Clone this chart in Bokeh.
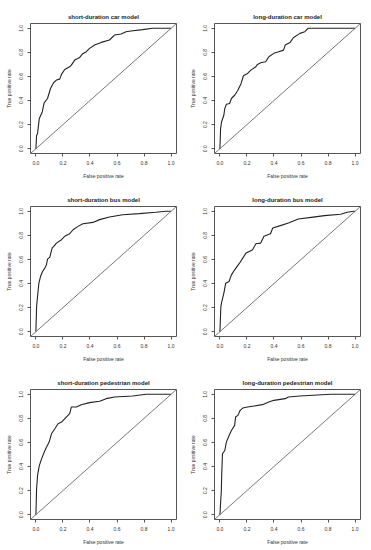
from bokeh.plotting import figure
from bokeh.layouts import column, row
from bokeh.models import Range1d, FixedTicker, Slope
from bokeh.embed import file_html
from bokeh.resources import INLINE

titles = ["short-duration car model", "long-duration car model",
          "short-duration bus model", "long-duration bus model",
          "short-duration pedestrian model", "long-duration pedestrian model"]
x_label = "False positive rate"
y_label = "True positive rate"
ticks = [0.0, 0.2, 0.4, 0.6, 0.8, 1.0]
tick_labels = ["0.0", "0.2", "0.4", "0.6", "0.8", "1.0"]

fpr_car_short = [0, 0.005, 0.012, 0.025, 0.047, 0.061, 0.086, 0.108, 0.132, 0.152, 0.176, 0.189, 0.213, 0.25, 0.262, 0.287, 0.324, 0.343, 0.373, 0.397, 0.434, 0.483, 0.544, 0.581, 0.63, 0.667, 0.703, 0.789, 0.863, 1.0]
tpr_car_short = [0, 0.11, 0.125, 0.25, 0.305, 0.38, 0.417, 0.5, 0.55, 0.57, 0.578, 0.617, 0.658, 0.68, 0.694, 0.736, 0.758, 0.786, 0.806, 0.833, 0.861, 0.883, 0.903, 0.944, 0.953, 0.972, 0.978, 0.989, 1.0, 1.0]

fpr_car_long = [0, 0.005, 0.012, 0.029, 0.036, 0.048, 0.072, 0.085, 0.109, 0.133, 0.157, 0.174, 0.205, 0.229, 0.266, 0.278, 0.302, 0.338, 0.362, 0.399, 0.435, 0.471, 0.483, 0.519, 0.543, 0.592, 0.628, 0.652, 1.0]
tpr_car_long = [0, 0.167, 0.222, 0.278, 0.333, 0.369, 0.375, 0.417, 0.444, 0.486, 0.542, 0.606, 0.625, 0.653, 0.681, 0.7, 0.714, 0.722, 0.764, 0.792, 0.806, 0.819, 0.861, 0.883, 0.922, 0.958, 0.972, 1.0, 1.0]

fpr_bus_short = [0, 0.005, 0.012, 0.022, 0.034, 0.049, 0.066, 0.078, 0.086, 0.103, 0.11, 0.12, 0.132, 0.152, 0.189, 0.213, 0.25, 0.275, 0.311, 0.348, 0.422, 0.471, 0.544, 0.642, 0.765, 0.887, 0.961, 1.0]
tpr_bus_short = [0, 0.208, 0.292, 0.403, 0.458, 0.5, 0.528, 0.556, 0.603, 0.619, 0.653, 0.694, 0.708, 0.736, 0.764, 0.792, 0.814, 0.847, 0.875, 0.897, 0.908, 0.931, 0.953, 0.972, 0.981, 0.992, 1.0, 1.0]

fpr_bus_long = [0, 0.007, 0.014, 0.029, 0.043, 0.068, 0.085, 0.109, 0.145, 0.169, 0.193, 0.217, 0.242, 0.266, 0.302, 0.326, 0.374, 0.391, 0.447, 0.507, 0.58, 0.676, 0.773, 0.894, 0.942, 0.99, 1.0]
tpr_bus_long = [0, 0.208, 0.25, 0.319, 0.403, 0.417, 0.472, 0.514, 0.569, 0.611, 0.653, 0.667, 0.681, 0.731, 0.736, 0.792, 0.814, 0.861, 0.881, 0.903, 0.936, 0.95, 0.964, 0.975, 0.992, 1.0, 1.0]

fpr_ped_short = [0, 0.005, 0.012, 0.025, 0.042, 0.061, 0.078, 0.098, 0.115, 0.14, 0.164, 0.189, 0.225, 0.25, 0.262, 0.299, 0.336, 0.397, 0.471, 0.52, 0.581, 0.716, 0.814, 1.0]
tpr_ped_short = [0, 0.214, 0.325, 0.408, 0.464, 0.519, 0.561, 0.603, 0.672, 0.714, 0.756, 0.769, 0.811, 0.839, 0.894, 0.894, 0.914, 0.931, 0.942, 0.964, 0.978, 0.986, 1.0, 1.0]

fpr_ped_long = [0, 0.01, 0.014, 0.019, 0.036, 0.048, 0.068, 0.085, 0.109, 0.116, 0.133, 0.15, 0.169, 0.205, 0.254, 0.314, 0.362, 0.399, 0.483, 0.507, 0.592, 0.688, 0.821, 1.0]
tpr_ped_long = [0, 0.186, 0.353, 0.506, 0.533, 0.603, 0.658, 0.7, 0.742, 0.811, 0.825, 0.867, 0.886, 0.894, 0.903, 0.914, 0.936, 0.95, 0.964, 0.978, 0.986, 0.992, 1.0, 1.0]

curves = [(fpr_car_short, tpr_car_short), (fpr_car_long, tpr_car_long),
          (fpr_bus_short, tpr_bus_short), (fpr_bus_long, tpr_bus_long),
          (fpr_ped_short, tpr_ped_short), (fpr_ped_long, tpr_ped_long)]

FONT = "Liberation Sans"
TXT = "#333333"

def make_panel(i, width, height, bl, br, bt, bb):
    p = figure(width=width, height=height, output_backend="svg", toolbar_location=None,
               x_range=Range1d(-0.04, 1.04), y_range=Range1d(-0.04, 1.04),
               min_border_left=bl, min_border_right=br, min_border_top=bt, min_border_bottom=bb,
               title=titles[i])
    p.title.align = "center"
    p.title.text_font = FONT
    p.title.text_font_size = "6px"
    p.title.text_font_style = "bold"
    p.title.text_color = "#222222"
    p.title.standoff = 8
    p.xgrid.visible = False
    p.ygrid.visible = False
    p.outline_line_color = "#555555"
    p.outline_line_width = 1
    p.background_fill_color = "white"
    p.border_fill_color = "white"
    for ax, lab in ((p.xaxis[0], x_label), (p.yaxis[0], y_label)):
        ax.ticker = FixedTicker(ticks=ticks)
        ax.major_label_overrides = {t: l for t, l in zip(ticks, tick_labels)}
        ax.minor_tick_line_color = None
        ax.axis_line_color = None
        ax.major_tick_line_color = "#555555"
        ax.major_tick_out = 3
        ax.major_tick_in = 0
        ax.major_label_text_font = FONT
        ax.major_label_text_font_size = "5px"
        ax.major_label_text_color = TXT
        ax.major_label_standoff = 4
        ax.axis_label = lab
        ax.axis_label_text_font = FONT
        ax.axis_label_text_font_size = "5px"
        ax.axis_label_text_font_style = "normal"
        ax.axis_label_text_color = TXT
        ax.axis_label_standoff = 5
    p.yaxis[0].major_label_orientation = "vertical"
    p.add_layout(Slope(gradient=1, y_intercept=0, line_color="#555555", line_width=0.8))
    xs, ys = curves[i]
    p.line(xs, ys, line_color="#222222", line_width=1.1)
    return p

row_heights = [183, 183, 184]
rows = []
for r in range(3):
    h = row_heights[r]
    bt = 23
    bb = h - bt - 130
    left = make_panel(2 * r, 185, h, 30, 9, bt, bb)
    right = make_panel(2 * r + 1, 186, h, 29, 11, bt, bb)
    rows.append(row(left, right, spacing=0))

layout = column(*rows, spacing=0)
open("out.html", "w").write(file_html(layout, INLINE))
